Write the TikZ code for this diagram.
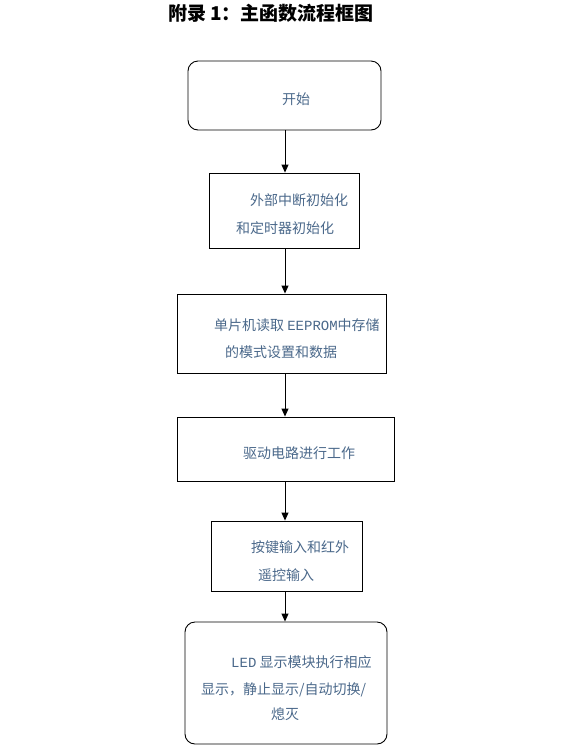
\documentclass[tikz,border=0pt]{standalone}
\usepackage{fontspec}
\setmainfont{Noto Sans CJK SC}
\newfontfamily\monofnt{Liberation Mono}
\usepackage{tikz}
\usetikzlibrary{arrows.meta}
\definecolor{txtblue}{RGB}{74,104,138}

\begin{document}
\begin{tikzpicture}[x=1pt,y=-1pt]
    \tikzset{
    stepbox/.style={draw, line width=0.9pt, inner sep=0pt},
    endbox/.style={stepbox, rounded corners=10pt},
    txt/.style={anchor=west, inner sep=0pt, text=txtblue, font=\fontsize{14pt}{16pt}\selectfont},
    conn/.style={-{Triangle[length=8pt,width=7pt]}, line width=0.9pt},
    }
    \useasboundingbox (0,0) rectangle (568,748);
    \node[inner sep=0pt, font=\bfseries\fontsize{19pt}{22pt}\selectfont] (title) at (271,13) {附录 1：主函数流程框图};

    \node[endbox, minimum width=193pt, minimum height=69pt] (b1) at (284.5,95.5) {};
    \node[stepbox, minimum width=150pt, minimum height=75pt] (b2) at (284,210.5) {};
    \node[stepbox, minimum width=209pt, minimum height=79pt] (b3) at (281.5,333.5) {};
    \node[stepbox, minimum width=217pt, minimum height=64pt] (b4) at (285.5,449) {};
    \node[stepbox, minimum width=151pt, minimum height=70pt] (b5) at (286.5,556) {};
    \node[endbox, minimum width=202pt, minimum height=122pt] (b6) at (286,683) {};

    \node[txt] (t1) at (282,99) {开始};
    \node[txt] (t2a) at (250,200) {外部中断初始化};
    \node[txt] (t2b) at (236,228) {和定时器初始化};
    \node[txt] (t3a) at (214,325) {单片机读取 {\monofnt EEPROM}中存储};
    \node[txt] (t3b) at (225,352) {的模式设置和数据};
    \node[txt] (t4) at (243,453) {驱动电路进行工作};
    \node[txt] (t5a) at (251,547) {按键输入和红外};
    \node[txt] (t5b) at (258,575) {遥控输入};
    \node[txt] (t6a) at (231,662) {{\monofnt LED} 显示模块执行相应};
    \node[txt] (t6b) at (201,690) {显示，静止显示/自动切换/};
    \node[txt] (t6c) at (271,714) {熄灭};

    \coordinate (ax) at (285,0);
    \draw[conn] (b1.south -| ax) -- (b2.north -| ax);
    \draw[conn] (b2.south -| ax) -- (b3.north -| ax);
    \draw[conn] (b3.south -| ax) -- (b4.north -| ax);
    \draw[conn] (b4.south -| ax) -- (b5.north -| ax);
    \draw[conn] (b5.south -| ax) -- (b6.north -| ax);

\end{tikzpicture}
\end{document}
